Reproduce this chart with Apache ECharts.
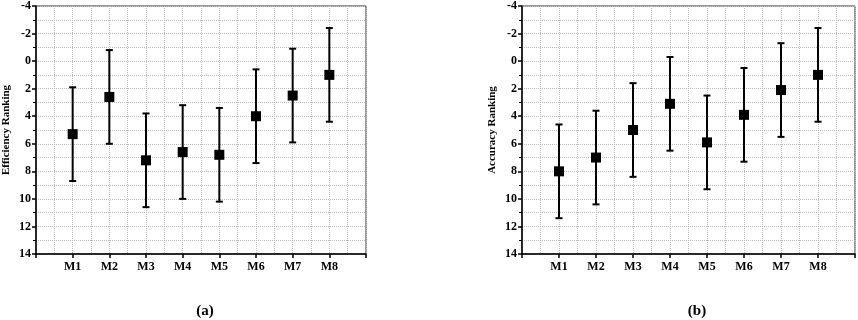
<!DOCTYPE html>
<html>
<head>
<meta charset="utf-8">
<script src="https://cdn.jsdelivr.net/npm/echarts@6/dist/echarts.min.js"></script>
<style>
  html, body { margin: 0; padding: 0; background: #fff; }
  #chart { width: 858px; height: 320px; }
</style>
</head>
<body>
<div id="chart"></div>
<script>
var models = ['M1', 'M2', 'M3', 'M4', 'M5', 'M6', 'M7', 'M8']
var efficiencyMean = [5.3, 2.6, 7.2, 6.6, 6.8, 4.0, 2.5, 1.0]
var efficiencyErr = [3.4, 3.4, 3.4, 3.4, 3.4, 3.4, 3.4, 3.4]
var accuracyMean = [8.0, 7.0, 5.0, 3.1, 5.9, 3.9, 2.1, 1.0]
var accuracyErr = [3.4, 3.4, 3.4, 3.4, 3.4, 3.4, 3.4, 3.4]
var yTicks = [-4, -2, 0, 2, 4, 6, 8, 10, 12, 14]

var font = 'Liberation Serif'
var gridColor = '#bdbdbd'

function points(means) {
  return means.map(function (m, i) { return [i + 1, m] })
}
function bars(means, errs) {
  return means.map(function (m, i) { return [i + 1, m - errs[i], m + errs[i]] })
}

// vertical error bar with caps
function errorItem(params, api) {
  var x = api.value(0)
  var top = api.coord([x, api.value(1)])
  var bot = api.coord([x, api.value(2)])
  var half = 3.5
  var style = { stroke: '#000', lineWidth: 2 }
  return {
    type: 'group',
    children: [
      { type: 'line', shape: { x1: top[0], y1: top[1], x2: bot[0], y2: bot[1] }, style: style },
      { type: 'line', shape: { x1: top[0] - half, y1: top[1], x2: top[0] + half, y2: top[1] }, style: style },
      { type: 'line', shape: { x1: bot[0] - half, y1: bot[1], x2: bot[0] + half, y2: bot[1] }, style: style }
    ]
  }
}

function xAxis(idx) {
  return {
    gridIndex: idx, type: 'value', min: 0, max: models.length + 1, interval: 1,
    axisLine: { onZero: false, lineStyle: { color: '#000', width: 1.5 } },
    axisTick: { show: true, length: 4, lineStyle: { color: '#000', width: 1.5 } },
    axisLabel: {
      color: '#000', fontFamily: font, fontWeight: 'bold', fontSize: 12, margin: 7,
      formatter: function (v) { return models[v - 1] || '' }
    },
    splitLine: { show: true, lineStyle: { color: gridColor, type: 'dotted', width: 1 } },
    minorTick: { show: false, splitNumber: 2 },
    minorSplitLine: { show: true, lineStyle: { color: gridColor, type: 'dotted', width: 1 } }
  }
}

function yAxis(idx, name) {
  return {
    gridIndex: idx, type: 'value', inverse: true,
    min: yTicks[0], max: yTicks[yTicks.length - 1], interval: 2,
    name: name, nameLocation: 'middle', nameGap: 24,
    nameTextStyle: { color: '#000', fontFamily: font, fontWeight: 'bold', fontSize: 11 },
    axisLine: { show: true, onZero: false, lineStyle: { color: '#000', width: 1.5 } },
    axisTick: { show: true, length: 4, lineStyle: { color: '#000', width: 1.5 } },
    minorTick: { show: true, splitNumber: 2, length: 3, lineStyle: { color: '#000', width: 1 } },
    axisLabel: { color: '#000', fontFamily: font, fontWeight: 'bold', fontSize: 12, margin: 5 },
    splitLine: { show: true, lineStyle: { color: gridColor, type: 'dotted', width: 1 } },
    minorSplitLine: { show: true, lineStyle: { color: gridColor, type: 'dotted', width: 1 } }
  }
}

var chart = echarts.init(document.getElementById('chart'))
var option = {
  backgroundColor: '#fff',
  animation: false,
  title: [
    { text: '(a)', left: 200, top: 299, textAlign: 'center',
      textStyle: { fontFamily: font, fontWeight: 'bold', fontSize: 15, color: '#000' } },
    { text: '(b)', left: 692, top: 299, textAlign: 'center',
      textStyle: { fontFamily: font, fontWeight: 'bold', fontSize: 15, color: '#000' } }
  ],
  grid: [
    { left: 33, top: 6, width: 333, height: 248, show: true, borderColor: '#333', borderWidth: 1 },
    { left: 522, top: 6, width: 333, height: 248, show: true, borderColor: '#333', borderWidth: 1 }
  ],
  xAxis: [xAxis(0), xAxis(1)],
  yAxis: [yAxis(0, 'Efficiency Ranking'), yAxis(1, 'Accuracy Ranking')],
  series: [
    { type: 'custom', xAxisIndex: 0, yAxisIndex: 0, renderItem: errorItem,
      data: bars(efficiencyMean, efficiencyErr), z: 2 },
    { type: 'scatter', xAxisIndex: 0, yAxisIndex: 0, symbol: 'rect', symbolSize: 10,
      itemStyle: { color: '#000', opacity: 1 }, data: points(efficiencyMean), z: 3 },
    { type: 'custom', xAxisIndex: 1, yAxisIndex: 1, renderItem: errorItem,
      data: bars(accuracyMean, accuracyErr), z: 2 },
    { type: 'scatter', xAxisIndex: 1, yAxisIndex: 1, symbol: 'rect', symbolSize: 10,
      itemStyle: { color: '#000', opacity: 1 }, data: points(accuracyMean), z: 3 }
  ]
}
chart.setOption(option)
</script>
</body>
</html>
